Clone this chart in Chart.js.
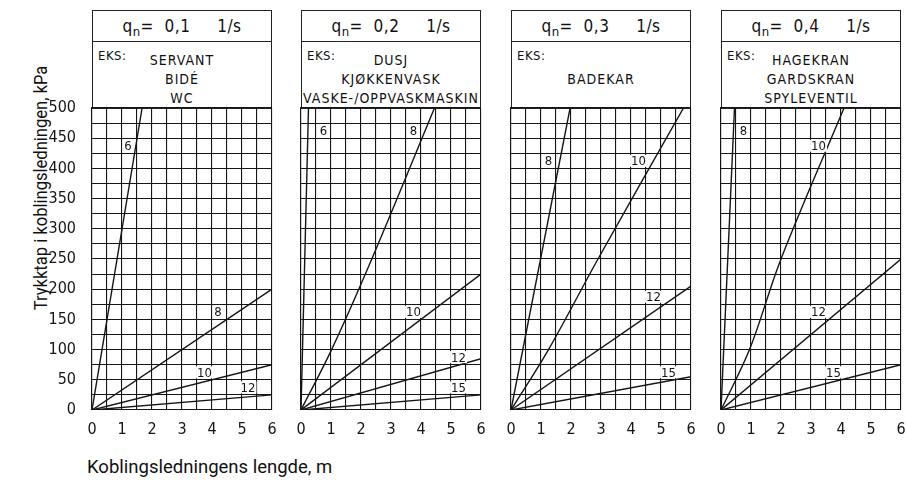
<!DOCTYPE html>
<html>
<head>
<meta charset="utf-8">
<script src="https://cdn.jsdelivr.net/npm/chart.js@4/dist/chart.umd.min.js"></script>
<style>
  body { margin: 0; background: #fff; width: 906px; height: 481px; position: relative; overflow: hidden;
         font-family: "Liberation Sans Narrow", "DejaVu Sans Condensed", sans-serif; color: #111; }
  .head { position: absolute; top: 10px; width: 180px; height: 99px; border: 1px solid #222; box-sizing: border-box; }
  .flow { height: 31px; border-bottom: 1px solid #222; box-sizing: border-box; text-align: center;
          font-size: 17px; line-height: 30px; letter-spacing: 0.5px; white-space: pre; }
  .flow sub { font-size: 13px; vertical-align: -4px; }
  .eks { position: absolute; left: 5px; top: 37px; font-size: 13px; letter-spacing: 0.5px; }
  .ex { position: absolute; left: 0; width: 100%; text-align: center; font-size: 14px; letter-spacing: 1px; }
  .plot { position: absolute; top: 100px; line-height: 0; }
  .plot canvas { display: block; }
  #ytitle { position: absolute; left: 40px; top: 188px; transform: translate(-50%, -50%) rotate(-90deg) scaleX(0.92);
            white-space: nowrap; font-size: 18px; font-family: "Liberation Sans Narrow", Roboto, sans-serif; }
  #xtitle { position: absolute; left: 87px; top: 456px; font-size: 18.5px; white-space: nowrap;
            font-family: "Liberation Sans Narrow", Roboto, sans-serif; }
</style>
</head>
<body>
<div id="ytitle">Trykktap i koblingsledningen, kPa</div>
<div id="xtitle">Koblingsledningens lengde, m</div>
<script>
// flow per panel and example fixtures
const flows = ["0,1", "0,2", "0,3", "0,4"];
const examples = [
  ["SERVANT", "BIDÉ", "WC"],
  ["DUSJ", "KJØKKENVASK", "VASKE-/OPPVASKMASKIN"],
  ["", "BADEKAR", ""],
  ["HAGEKRAN", "GARDSKRAN", "SPYLEVENTIL"],
];

// axis ticks
const xTicks = [0, 1, 2, 3, 4, 5, 6];
const yTicks = [0, 50, 100, 150, 200, 250, 300, 350, 400, 450, 500];

// curves: pipe size (mm), length (m), pressure loss (kPa)
const names1 = ["6", "8", "10", "12"];
const len1 = [[0, 1.67], [0, 6], [0, 6], [0, 6]];
const loss1 = [[0, 500], [0, 200], [0, 75], [0, 25]];

const names2 = ["6", "8", "10", "12", "15"];
const len2 = [[0, 0.25], [0, 1.02, 2.36, 4.45], [0, 6], [0, 6], [0, 6]];
const loss2 = [[0, 500], [0, 100, 250, 500], [0, 225], [0, 85], [0, 25]];

const names3 = ["8", "10", "12", "15"];
const len3 = [[0, 1.97], [0, 1.25, 2.9, 5.75], [0, 6], [0, 6]];
const loss3 = [[0, 500], [0, 100, 250, 500], [0, 205], [0, 55]];

const names4 = ["8", "10", "12", "15"];
const len4 = [[0, 0.45], [0, 0.95, 2.0, 4.1], [0, 6], [0, 6]];
const loss4 = [[0, 500], [0, 100, 250, 500], [0, 250], [0, 75]];

// where the curve numbers sit (length, kPa)
const tag1 = [[1.2, 437.5], [4.2, 162.5], [3.75, 62.5], [5.2, 37.5]];
const tag2 = [[0.75, 462.5], [3.75, 462.5], [3.75, 162.5], [5.25, 87.5], [5.25, 37.5]];
const tag3 = [[1.25, 412.5], [4.25, 412.5], [4.75, 187.5], [5.25, 62.5]];
const tag4 = [[0.75, 462.5], [3.25, 437.5], [3.25, 162.5], [3.75, 62.5]];

const panels = [
  { names: names1, len: len1, loss: loss1, tags: tag1, left: 92 },
  { names: names2, len: len2, loss: loss2, tags: tag2, left: 301 },
  { names: names3, len: len3, loss: loss3, tags: tag3, left: 511 },
  { names: names4, len: len4, loss: loss4, tags: tag4, left: 721 },
];

const ink = "#151515";
const tickFont = { family: '"Liberation Sans Narrow", "DejaVu Sans Condensed", sans-serif', size: 16 };

const curveTags = {
  id: "curveTags",
  afterDatasetsDraw(chart, args, opts) {
    const { ctx, scales: { x, y } } = chart;
    ctx.save();
    ctx.font = '13px "Liberation Sans Narrow", "DejaVu Sans Condensed", sans-serif';
    ctx.textAlign = "center";
    ctx.textBaseline = "middle";
    opts.names.forEach((n, i) => {
      const px = x.getPixelForValue(opts.at[i][0]);
      const py = y.getPixelForValue(opts.at[i][1]);
      const w = ctx.measureText(n).width + 2;
      ctx.fillStyle = "#fff";
      ctx.fillRect(px - w / 2, py - 6, w, 12);
      ctx.fillStyle = ink;
      ctx.fillText(n, px, py + 1);
    });
    ctx.restore();
  },
};

const noPad = (s) => { s.paddingTop = 0; s.paddingBottom = 0; s.paddingLeft = 0; s.paddingRight = 0; };

panels.forEach((p, i) => {
  // header boxes
  const head = document.createElement("div");
  head.className = "head";
  head.style.left = p.left + "px";
  head.innerHTML = '<div class="flow">q<sub>n</sub>=  ' + flows[i] + "     1/s</div>" +
    '<div class="eks">EKS:</div>' +
    examples[i].map((t, k) => '<div class="ex" style="top:' + (41 + k * 19) + 'px">' + t + "</div>").join("");
  document.body.appendChild(head);

  const padL = i === 0 ? 62 : 12;
  const wrap = document.createElement("div");
  wrap.className = "plot";
  wrap.style.left = (p.left - padL) + "px";
  const cv = document.createElement("canvas");
  cv.width = padL + 180 + 12;
  cv.height = 340;
  wrap.appendChild(cv);
  document.body.appendChild(wrap);

  new Chart(cv, {
    type: "line",
    data: {
      datasets: p.names.map((n, k) => ({
        label: n,
        data: p.len[k].map((v, j) => ({ x: v, y: p.loss[k][j] })),
        borderColor: ink,
        borderWidth: 1.4,
        pointRadius: 0,
        tension: p.len[k].length > 2 ? 0.35 : 0,
        fill: false,
      })),
    },
    options: {
      responsive: false,
      animation: false,
      layout: { padding: { top: 8, right: 12, left: 0, bottom: 0 } },
      plugins: {
        legend: { display: false },
        tooltip: { enabled: false },
        curveTags: { names: p.names, at: p.tags },
      },
      scales: {
        x: {
          type: "linear",
          min: 0,
          max: 6,
          afterFit: (s) => { s.height = 30; noPad(s); },
          grid: { color: ink, lineWidth: 1.1, drawTicks: false },
          border: { color: ink, width: 1.1 },
          ticks: {
            stepSize: 0.5,
            autoSkip: false,
            maxRotation: 0,
            padding: 10,
            color: ink,
            font: tickFont,
            callback: (v) => (xTicks.includes(v) ? String(v) : ""),
          },
        },
        y: {
          type: "linear",
          min: 0,
          max: 500,
          afterFit: (s) => { s.width = padL; noPad(s); },
          grid: { color: ink, lineWidth: 1.1, drawTicks: false },
          border: { color: ink, width: 1.1 },
          ticks: {
            display: i === 0,
            stepSize: 25,
            autoSkip: false,
            padding: 16,
            color: ink,
            font: tickFont,
            callback: (v) => (yTicks.includes(v) ? String(v) : ""),
          },
        },
      },
    },
    plugins: [curveTags],
  });
});
</script>
</body>
</html>
